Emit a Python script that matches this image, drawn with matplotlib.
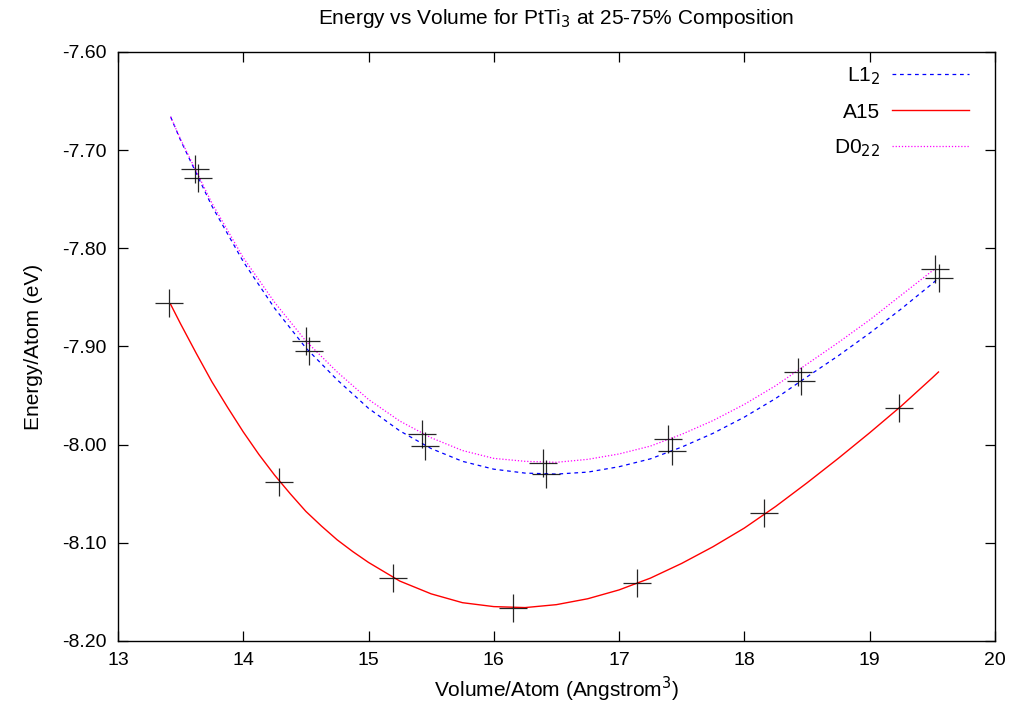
import matplotlib.pyplot as plt
from matplotlib.ticker import FormatStrFormatter

plt.rcParams['font.family'] = ['Liberation Sans', 'DejaVu Sans']

# fitted curves
l12_curve_v = [13.42, 13.5, 13.75, 14.0, 14.25, 14.5, 14.75, 15.0, 15.25, 15.5, 15.75, 16.0, 16.25,
               16.5, 16.75, 17.0, 17.25, 17.5, 17.75, 18.0, 18.25, 18.5, 18.75, 19.0, 19.25, 19.5, 19.555]
l12_curve_e = [-7.666, -7.690, -7.757, -7.8135, -7.861, -7.9015, -7.934, -7.963, -7.986, -8.004, -8.017,
               -8.025, -8.029, -8.030, -8.028, -8.0225, -8.0145, -8.0025, -7.9885, -7.972, -7.953, -7.931,
               -7.9095, -7.8865, -7.862, -7.836, -7.830]

a15_curve_v = [13.42, 13.5, 13.625, 13.75, 13.875, 14.0, 14.125, 14.25, 14.375, 14.5, 14.625, 14.75,
               14.875, 15.0, 15.25, 15.5, 15.75, 16.0, 16.25, 16.5, 16.75, 17.0, 17.25, 17.5, 17.75,
               18.0, 18.25, 18.5, 18.75, 19.0, 19.25, 19.5, 19.55]
a15_curve_e = [-7.857, -7.877, -7.907, -7.936, -7.962, -7.987, -8.010, -8.031, -8.050, -8.068, -8.083,
               -8.097, -8.109, -8.120, -8.139, -8.152, -8.161, -8.165, -8.166, -8.163, -8.157, -8.148,
               -8.136, -8.121, -8.104, -8.085, -8.063, -8.039, -8.014, -7.988, -7.961, -7.932, -7.926]

d022_curve_v = [13.42, 13.5, 13.75, 14.0, 14.25, 14.5, 14.75, 15.0, 15.25, 15.5, 15.75, 16.0, 16.25,
                16.5, 16.75, 17.0, 17.25, 17.5, 17.75, 18.0, 18.25, 18.5, 18.75, 19.0, 19.25, 19.52]
d022_curve_e = [-7.666, -7.689, -7.754, -7.8095, -7.855, -7.8945, -7.926, -7.954, -7.976, -7.993, -8.006,
                -8.014, -8.017, -8.018, -8.015, -8.0095, -8.0015, -7.9895, -7.9755, -7.959, -7.940, -7.918,
                -7.896, -7.873, -7.848, -7.821]

# computed points
l12_v = [13.636, 14.524, 15.450, 16.416, 17.424, 18.451, 19.555]
l12_e = [-7.728, -7.905, -8.001, -8.030, -8.006, -7.935, -7.830]
a15_v = [13.41, 14.287, 15.197, 16.15, 17.14, 18.16, 19.235]
a15_e = [-7.856, -8.038, -8.136, -8.166, -8.141, -8.070, -7.963]
d022_v = [13.615, 14.498, 15.424, 16.39, 17.392, 18.427, 19.520]
d022_e = [-7.7195, -7.894, -7.989, -8.019, -7.994, -7.926, -7.821]

fig = plt.figure(figsize=(10.1, 7.11), dpi=100)
ax = fig.add_axes([0.1168, 0.0985, 0.8682, 0.8284])

ax.plot(l12_curve_v, l12_curve_e, color='blue', lw=0.9, dashes=(3, 3), label='L1$_2$')
ax.plot(a15_curve_v, a15_curve_e, color='red', lw=1.0, label='A15')
ax.plot(d022_curve_v, d022_curve_e, color='magenta', lw=0.9, dashes=(1, 1.5), label='D0$_{22}$')

for v, e in [(l12_v, l12_e), (a15_v, a15_e), (d022_v, d022_e)]:
    ax.plot(v, e, '+', color='black', ms=20, mew=0.9, alpha=0.85)

ax.set_xlim(13, 20)
ax.set_ylim(-8.20, -7.60)
ax.set_xticks(range(13, 21))
ax.set_yticks([-8.2, -8.1, -8.0, -7.9, -7.8, -7.7, -7.6])
ax.yaxis.set_major_formatter(FormatStrFormatter('%.2f'))
ax.tick_params(direction='in', length=7, width=0.9, top=True, right=True, labelsize=14, pad=8)
for s in ax.spines.values():
    s.set_linewidth(1.0)

ax.set_title('Energy vs Volume for PtTi$_3$ at 25-75% Composition', fontsize=15, pad=20)
ax.set_xlabel('Volume/Atom (Angstrom$^3$)', fontsize=15, labelpad=4)
ax.set_ylabel('Energy/Atom (eV)', fontsize=15, labelpad=14)

ax.legend(loc='upper right', bbox_to_anchor=(0.986, 1.0), frameon=False, markerfirst=False,
          fontsize=15, handlelength=3.7, labelspacing=0.75, borderaxespad=0.25, handletextpad=0.55)

fig.savefig('out.png', dpi=100)
